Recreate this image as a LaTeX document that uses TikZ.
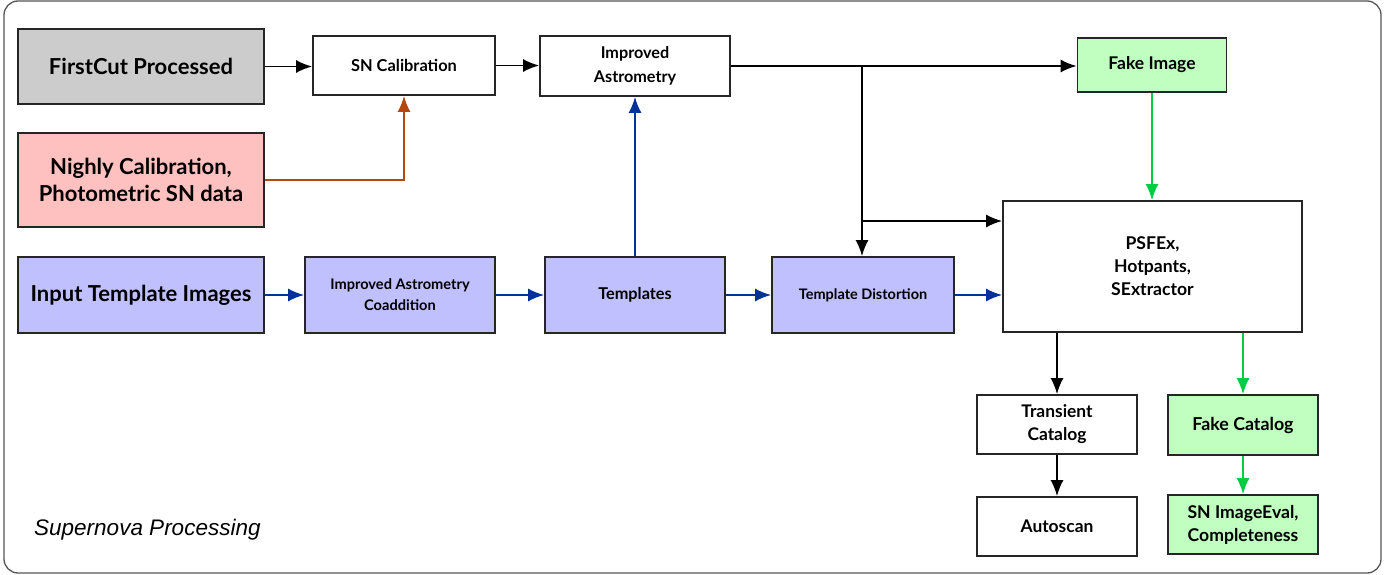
\documentclass[tikz,border=0pt]{standalone}
\usepackage{fontspec}
\setmainfont{Lato}
\newfontfamily\labelfont{Liberation Sans}
\usetikzlibrary{arrows.meta}
\definecolor{boxgray}{HTML}{CCCCCC}
\definecolor{boxpink}{HTML}{FFC0C0}
\definecolor{boxblue}{HTML}{C0C0FF}
\definecolor{boxgreen}{HTML}{C0FFC0}
\definecolor{arrblue}{HTML}{003399}
\definecolor{arrbrown}{HTML}{B5480F}
\definecolor{arrgreen}{HTML}{00CC44}
\definecolor{framegray}{HTML}{555555}
\tikzset{
  box/.style={draw=black!85, line width=1.8pt, inner sep=0pt, align=center, fill=white},
  txt/.style 2 args={font=\fontsize{#1}{#2}\selectfont\bfseries},
  conn/.style={line width=1.7pt, -{Latex[length=16pt,width=13pt]}},
  blk/.style={conn, draw=black},
  blu/.style={conn, draw=arrblue, -{Latex[length=16pt,width=13pt,color=arrblue]}},
  brn/.style={conn, draw=arrbrown, -{Latex[length=16pt,width=13pt,color=arrbrown]}},
  grn/.style={conn, draw=arrgreen, -{Latex[length=16pt,width=13pt,color=arrgreen]}},
}
\begin{document}
\begin{tikzpicture}[x=1pt,y=-1pt]
\useasboundingbox (0,0) rectangle (1387,575);
\draw[framegray, line width=1.3pt, rounded corners=14pt] (4,1) rectangle (1381,573);

\node[box, txt={22}{27}, fill=boxgray, minimum width=246pt, minimum height=75pt] (first) at (141,66.5) {FirstCut Processed};
\node[box, txt={22}{27}, fill=boxpink, minimum width=246pt, minimum height=94pt] (nightly) at (141,180) {Nighly Calibration,\\Photometric SN data};
\node[box, txt={22}{27}, fill=boxblue, minimum width=246pt, minimum height=76pt] (input) at (141,295) {Input Template Images};

\node[box, txt={16.4}{23}, minimum width=182pt, minimum height=59pt] (sncal) at (404,65.5) {SN Calibration};
\node[box, txt={14.6}{21}, fill=boxblue, minimum width=190pt, minimum height=76pt] (coadd) at (400,295) {Improved Astrometry\\Coaddition};
\node[box, txt={16.2}{24}, minimum width=190pt, minimum height=60pt] (impastro) at (635,66) {Improved\\Astrometry};
\node[box, txt={16.3}{23}, fill=boxblue, minimum width=180pt, minimum height=76pt] (templates) at (635,295) {Templates};
\node[box, txt={14.5}{21}, fill=boxblue, minimum width=182pt, minimum height=76pt] (tdist) at (863,295) {Template Distortion};
\node[box, txt={17.5}{23}, fill=boxgreen, minimum width=149pt, minimum height=54pt] (fake) at (1152,65) {Fake Image};
\node[box, txt={17.6}{23}, minimum width=299pt, minimum height=131pt] (psfex) at (1152.5,266.5) {PSFEx,\\Hotpants,\\SExtractor};
\node[box, txt={17.4}{23}, minimum width=160pt, minimum height=59pt] (trans) at (1057,424.5) {Transient\\Catalog};
\node[box, txt={17.4}{23}, minimum width=160pt, minimum height=59pt] (autoscan) at (1057,526.5) {Autoscan};
\node[box, txt={17.8}{23}, fill=boxgreen, minimum width=150pt, minimum height=60pt] (fakecat) at (1243,425) {Fake Catalog};
\node[box, txt={17.6}{23}, fill=boxgreen, minimum width=150pt, minimum height=59pt] (sneval) at (1243,524.5) {SN ImageEval,\\Completeness};

\node[anchor=west, inner sep=0pt, font=\labelfont\itshape\fontsize{22.5}{26}\selectfont] (title) at (34,530) {Supernova Processing};

\coordinate (br) at (862,66);
\coordinate (br2) at (862,221);

\draw[blk] (first.east) -- (first.east -| sncal.west);
\draw[blk] (sncal.east) -- (sncal.east -| impastro.west);
\draw[brn] (nightly.east) -| (sncal.south);
\draw[blu] (input.east) -- (coadd.west);
\draw[blu] (coadd.east) -- (templates.west);
\draw[blu] (templates.north) -- (impastro.south);
\draw[blu] (templates.east) -- (tdist.west);
\draw[blu] (tdist.east) -- (tdist.east -| psfex.west);
\draw[blk] (impastro.east) -- (impastro.east -| fake.west);
\draw[blk] (br) -- (br |- tdist.north);
\draw[blk] (br2) -- (br2 -| psfex.west);
\draw[grn] (fake.south) -- (fake.south |- psfex.north);
\draw[blk] (trans.north |- psfex.south) -- (trans.north);
\draw[grn] (fakecat.north |- psfex.south) -- (fakecat.north);
\draw[blk] (trans.south) -- (autoscan.north);
\draw[grn] (fakecat.south) -- (sneval.north);
\end{tikzpicture}
\end{document}
